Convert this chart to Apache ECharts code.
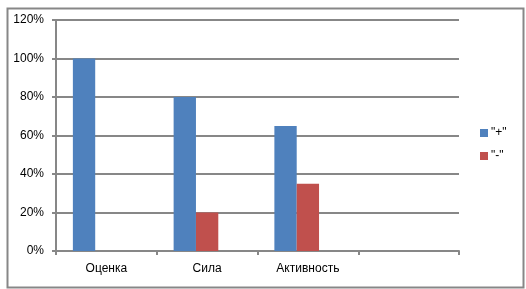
<!DOCTYPE html>
<html><head><meta charset="utf-8">
<script src="https://cdn.jsdelivr.net/npm/echarts@6/dist/echarts.min.js"></script>
<style>html,body{margin:0;padding:0;background:#fff}#c{width:526px;height:289px}</style>
</head><body><div id="c"></div>
<script>
const categories = ['Оценка', 'Сила', 'Активность', ''];
const plusValues = [1.00, 0.80, 0.65, null];
const minusValues = [0.00, 0.20, 0.35, null];
const emptyValues = [null, null, null, null];
const seriesNames = ['"+"', '"-"'];
const yTicks = { min: 0, max: 1.2, interval: 0.2 };

const chart = echarts.init(document.getElementById('c'), null, { renderer: 'canvas' });
const axisGrey = '#878787';
const font = 'Liberation Sans';
chart.setOption({
  animation: false,
  graphic: [{
    type: 'rect', left: 5, top: 6,
    shape: { width: 516, height: 279 },
    style: { fill: 'none', stroke: axisGrey, lineWidth: 2 }
  }],
  grid: { left: 56, top: 20, right: 67, bottom: 38 },
  legend: {
    orient: 'vertical', left: 480, top: 127, padding: 0,
    data: seriesNames, itemWidth: 8, itemHeight: 8, itemGap: 11,
    icon: 'rect',
    textStyle: { fontFamily: font, fontSize: 12, color: '#000', padding: [0, 0, 0, -2] }
  },
  xAxis: {
    type: 'category', data: categories, boundaryGap: true,
    axisLine: { lineStyle: { color: axisGrey, width: 2 } },
    axisTick: { show: true, length: 4, lineStyle: { color: axisGrey, width: 2 } },
    axisLabel: { fontFamily: font, fontSize: 12, color: '#000', margin: 12, interval: 0 }
  },
  yAxis: {
    type: 'value', min: yTicks.min, max: yTicks.max, interval: yTicks.interval,
    axisLine: { show: true, lineStyle: { color: axisGrey, width: 2 } },
    axisTick: { show: true, length: 4, lineStyle: { color: axisGrey, width: 2 } },
    splitLine: { lineStyle: { color: axisGrey, width: 2 } },
    axisLabel: { fontFamily: font, fontSize: 12, color: '#000', margin: 12,
      formatter: v => Math.round(v * 100) + '%' }
  },
  series: [
    { name: seriesNames[0], type: 'bar', data: plusValues, itemStyle: { color: '#4F81BD' }, barGap: '0%', barCategoryGap: '33.5%' },
    { name: seriesNames[1], type: 'bar', data: minusValues, itemStyle: { color: '#C0504D' }, barGap: '0%', barCategoryGap: '33.5%' },
    { name: 'empty', type: 'bar', data: emptyValues, itemStyle: { color: '#9BBB59' }, barGap: '0%', barCategoryGap: '33.5%' }
  ]
});
</script></body></html>
